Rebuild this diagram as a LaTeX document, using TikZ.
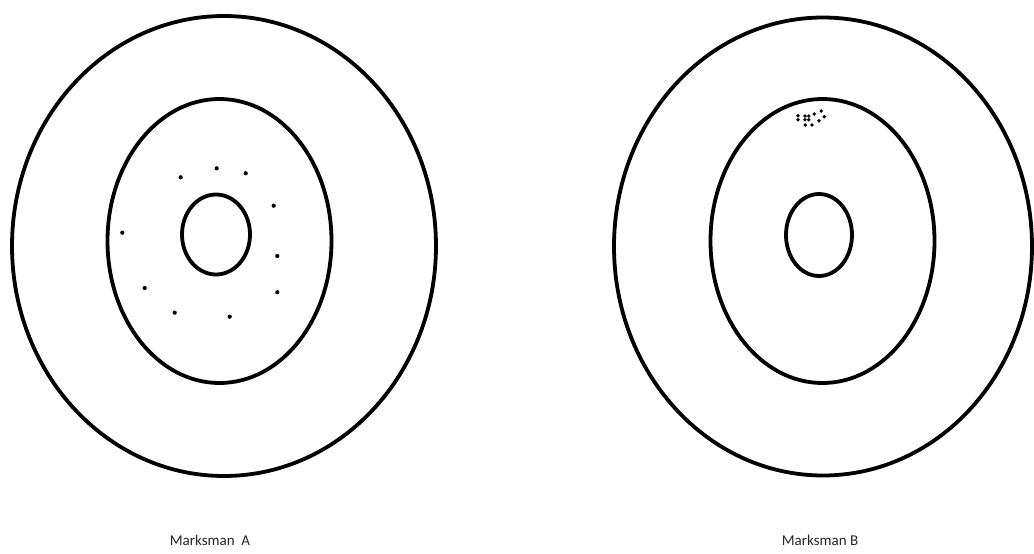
\documentclass[tikz,border=0pt]{standalone}
\usepackage{fontspec}
\setmainfont{Carlito}
\begin{document}
\begin{tikzpicture}[x=1pt,y=-1pt,
  ring/.style={draw=black,line width=3.8pt},
  shot/.style={fill=black,circle,inner sep=0pt,minimum size=4.2pt},
  cshot/.style={fill=black,circle,inner sep=0pt,minimum size=3.8pt},
  lbl/.style={font=\fontsize{15}{18}\selectfont,text=black!85}]
\useasboundingbox (0,0) rectangle (1034,554);
% Target A
\draw[ring] (224,246) ellipse [x radius=212,y radius=230];
\draw[ring] (219.5,241) ellipse [x radius=112,y radius=142];
\draw[ring] (216,234.5) ellipse [x radius=34,y radius=40];
\foreach \p/\n in {{(216.7,168.3)}/a1,{(180.7,177.3)}/a2,{(245.7,173.3)}/a3,{(273.7,205.7)}/a4,{(122.3,232.7)}/a5,{(277.3,256)}/a6,{(144.7,288)}/a7,{(277.3,292.3)}/a8,{(174.7,312.7)}/a9,{(229.7,316.7)}/a10}
  \node[shot] (\n) at \p {};
% Target B
\draw[ring] (823,246.5) ellipse [x radius=209,y radius=229];
\draw[ring] (822.5,241) ellipse [x radius=112,y radius=142];
\draw[ring] (819,235) ellipse [x radius=33,y radius=41];
\foreach \p/\n in {{(798,115.7)}/b1,{(798,119.7)}/b2,{(805,116)}/b3,{(808.7,116)}/b4,{(805,119.7)}/b5,{(808.7,119.7)}/b6,{(814.3,114)}/b7,{(821.3,111)}/b8,{(824.3,116.7)}/b9,{(819,120.7)}/b10,{(805.3,125)}/b11,{(812,125)}/b12}
  \node[cshot] (\n) at \p {};
% Labels
\node[lbl] (la) at (210,540) {Marksman\ \ A};
\node[lbl] (lb) at (820,540) {Marksman B};
\end{tikzpicture}
\end{document}
